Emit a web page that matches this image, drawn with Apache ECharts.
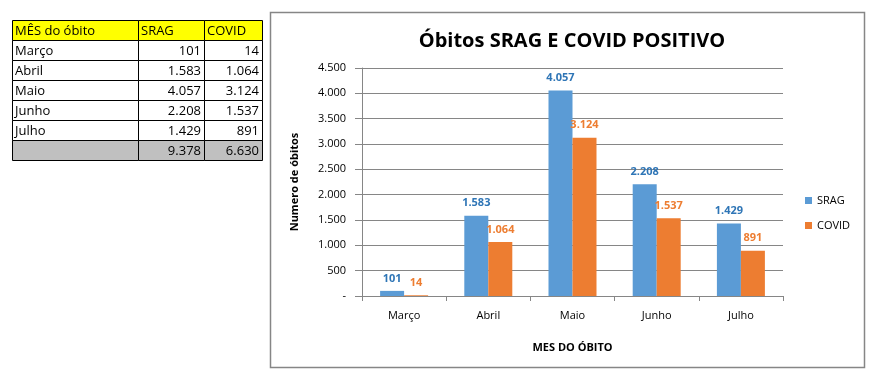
<!DOCTYPE html>
<html>
<head>
<meta charset="utf-8">
<script src="https://cdn.jsdelivr.net/npm/echarts@6/dist/echarts.min.js"></script>
<style>html,body{margin:0;padding:0;background:#fff;}#c{width:878px;height:381px;}</style>
</head>
<body>
<div id="c"></div>
<script>
const months = ['Março', 'Abril', 'Maio', 'Junho', 'Julho'];
const srag = [101, 1583, 4057, 2208, 1429];
const covid = [14, 1064, 3124, 1537, 891];
const tableHeader = ['MÊS do óbito', 'SRAG', 'COVID'];
const yTicks = [0, 500, 1000, 1500, 2000, 2500, 3000, 3500, 4000, 4500];

const FONT = 'Open Sans, Noto Sans, sans-serif';
function fmt(v) {
  if (v === 0) return '-';
  return String(v).replace(/\B(?=(\d{3})+(?!\d))/g, '.');
}

// table graphics
const colX = [12, 138, 204, 262];
const rowH = 20, top0 = 20;
const g = [];
const rows = [tableHeader];
months.forEach((m, i) => rows.push([m, fmt(srag[i]), fmt(covid[i])]));
rows.push(['', fmt(srag.reduce((a, b) => a + b, 0)), fmt(covid.reduce((a, b) => a + b, 0))]);
rows.forEach((r, ri) => {
  const y = top0 + ri * rowH;
  const fill = ri === 0 ? '#ffff00' : (ri === rows.length - 1 ? '#c0c0c0' : '#ffffff');
  for (let c = 0; c < 3; c++) {
    g.push({ type: 'rect', shape: { x: colX[c] + 0.5, y: y + 0.5, width: colX[c + 1] - colX[c], height: rowH },
      style: { fill: fill, stroke: '#000', lineWidth: 1 } });
    const right = ri > 0 && c > 0;
    g.push({ type: 'text', x: right ? colX[c + 1] - 3 : colX[c] + 3, y: y + rowH / 2 + 1,
      style: { text: r[c], font: '13px ' + FONT, fill: '#000', align: right ? 'right' : 'left', verticalAlign: 'middle' } });
  }
});
// chart frame
g.push({ type: 'rect', shape: { x: 270.5, y: 12.5, width: 594, height: 355 }, style: { fill: 'none', stroke: '#868686', lineWidth: 1.5 }, z: -1 });

const chart = echarts.init(document.getElementById('c'));
chart.setOption({
  animation: false,
  title: { text: 'Óbitos SRAG E COVID POSITIVO', left: 567, top: 26, textAlign: 'center',
    textStyle: { fontFamily: FONT, fontSize: 20, fontWeight: 'bold', color: '#000' } },
  graphic: g,
  legend: { orient: 'vertical', left: 800, top: 190, itemWidth: 7, itemHeight: 7, itemGap: 14,
    icon: 'rect', textStyle: { fontFamily: FONT, fontSize: 11, color: '#000' }, data: ['SRAG', 'COVID'] },
  grid: { left: 362, right: 95, top: 68, bottom: 85 },
  xAxis: { type: 'category', data: months,
    name: 'MES DO ÓBITO', nameLocation: 'middle', nameGap: 46,
    nameTextStyle: { fontFamily: FONT, fontSize: 11, fontWeight: 'bold', color: '#000' },
    axisLine: { lineStyle: { color: '#868686' } },
    axisTick: { show: true, length: 5, lineStyle: { color: '#868686' } },
    axisLabel: { fontFamily: FONT, fontSize: 11, color: '#000', margin: 14 } },
  yAxis: { type: 'value', min: yTicks[0], max: yTicks[yTicks.length - 1], interval: 500,
    name: 'Numero de óbitos', nameLocation: 'middle', nameGap: 62, nameRotate: 90,
    nameTextStyle: { fontFamily: FONT, fontSize: 11, fontWeight: 'bold', color: '#000' },
    axisLine: { show: true, lineStyle: { color: '#868686' } },
    axisTick: { show: true, length: 7, lineStyle: { color: '#868686' } },
    splitLine: { lineStyle: { color: '#868686' } },
    axisLabel: { fontFamily: FONT, fontSize: 11, color: '#000', margin: 16, formatter: v => fmt(v) } },
  series: [
    { name: 'SRAG', type: 'bar', data: srag, barGap: '0%', barCategoryGap: '43%',
      itemStyle: { color: '#5b9bd5' },
      label: { show: true, position: 'top', distance: 7, formatter: p => fmt(p.value),
        fontFamily: FONT, fontSize: 11, fontWeight: 'bold', color: '#2e75b6' } },
    { name: 'COVID', type: 'bar', data: covid,
      itemStyle: { color: '#ed7d31' },
      label: { show: true, position: 'top', distance: 7, formatter: p => fmt(p.value),
        fontFamily: FONT, fontSize: 11, fontWeight: 'bold', color: '#ed7d31' } }
  ]
});
</script>
</body>
</html>
